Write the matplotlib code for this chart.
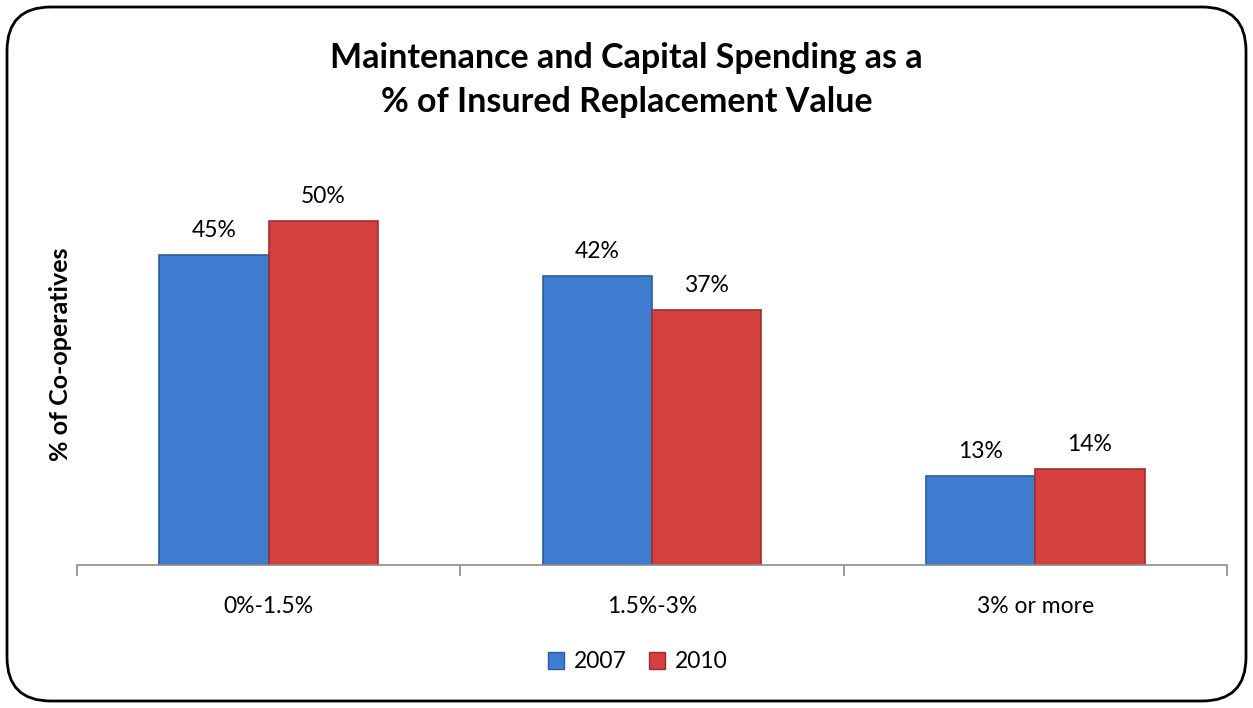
import numpy as np
import matplotlib
matplotlib.use("Agg")
import matplotlib.pyplot as plt
from matplotlib.patches import FancyBboxPatch, Patch

plt.rcParams['font.family'] = ['Lato', 'DejaVu Sans']

categories = ["0%-1.5%", "1.5%-3%", "3% or more"]
series_names = ["2007", "2010"]
values_2007 = [45, 42, 13]
values_2010 = [50, 37, 14]
labels_2007 = ["45%", "42%", "13%"]
labels_2010 = ["50%", "37%", "14%"]

blue = "#3E7CD0"
blue_edge = "#2C5C9E"
red = "#D4403F"
red_edge = "#9E2E2D"

fig = plt.figure(figsize=(12.53, 7.08), dpi=100)

# rounded frame around the whole chart
frame = FancyBboxPatch((7 / 1253, 7 / 708), 1239 / 1253, 694 / 708,
                       boxstyle="round,pad=0,rounding_size=0.035",
                       transform=fig.transFigure, fill=False,
                       edgecolor="black", linewidth=2, mutation_aspect=1253 / 708)
fig.patches.append(frame)

ax = fig.add_axes([77 / 1253, 143 / 708, 1150 / 1253, 413 / 708])
x = np.arange(len(categories))
w = 0.285

b1 = ax.bar(x - w / 2, values_2007, w, color=blue, edgecolor=blue_edge, linewidth=1.2)
b2 = ax.bar(x + w / 2, values_2010, w, color=red, edgecolor=red_edge, linewidth=1.2)

for bars, labs in ((b1, labels_2007), (b2, labels_2010)):
    for rect, lab in zip(bars, labs):
        ax.annotate(lab, (rect.get_x() + rect.get_width() / 2, rect.get_height()),
                    xytext=(0, 10), textcoords="offset points",
                    ha="center", va="bottom", fontsize=16.5)

ax.set_xlim(-0.5, len(categories) - 0.5)
ax.set_ylim(0, 60)
ax.set_yticks([])
for s in ("top", "right", "left"):
    ax.spines[s].set_visible(False)
ax.spines["bottom"].set_color("#8C8C8C")
ax.spines["bottom"].set_linewidth(1.2)

ax.set_xticks(np.arange(-0.5, len(categories)), minor=False)
ax.set_xticklabels([])
ax.tick_params(axis="x", length=8, color="#8C8C8C", width=1.2)
ax.set_xticks(x, minor=True)
ax.set_xticklabels(categories, minor=True, fontsize=16.5)
ax.tick_params(axis="x", which="minor", length=0, pad=22)

ax.set_ylabel("% of Co-operatives", fontsize=18, fontweight="bold", labelpad=0)
ax.yaxis.set_label_coords(-0.004, 0.51)

fig.text(0.5, 0.887, "Maintenance and Capital Spending as a\n% of Insured Replacement Value",
         ha="center", va="center", fontsize=24.5, fontweight="bold", linespacing=1.45)

handles = [Patch(facecolor=blue, edgecolor=blue_edge), Patch(facecolor=red, edgecolor=red_edge)]
fig.legend(handles, series_names, loc="center", bbox_to_anchor=(0.509, 46 / 708),
           ncol=2, frameon=False, fontsize=16.5, handlelength=0.7, handleheight=0.7,
           handletextpad=0.4, columnspacing=1.0)

fig.savefig("out.png", dpi=100)
